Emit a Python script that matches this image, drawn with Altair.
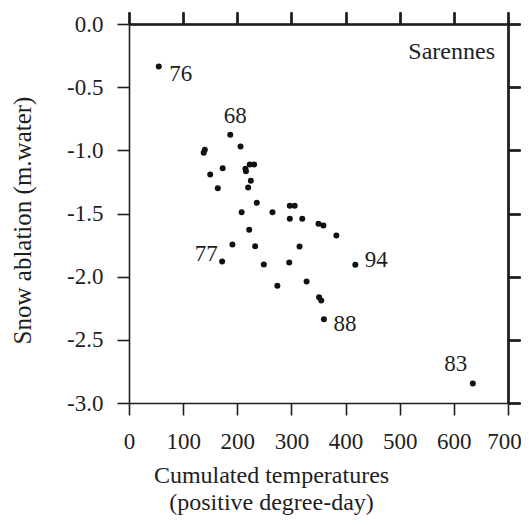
import altair as alt
import pandas as pd

# Cumulated temperatures (positive degree-day) and snow ablation (m water)
temps = [55, 187, 206, 140, 138, 173, 150, 164, 215, 223, 231, 216, 225, 220,
         236, 208, 265, 297, 306, 297, 320, 222, 191, 233, 315, 172, 249, 296,
         274, 328, 350, 359, 383, 418, 351, 355, 360, 635]
ablation = [-0.336, -0.877, -0.970, -0.996, -1.02, -1.141, -1.191, -1.30, -1.146,
            -1.112, -1.112, -1.165, -1.241, -1.294, -1.415, -1.49, -1.49, -1.438,
            -1.438, -1.542, -1.542, -1.629, -1.745, -1.759, -1.761, -1.88, -1.904,
            -1.888, -2.072, -2.038, -1.582, -1.595, -1.674, -1.906, -2.163, -2.189,
            -2.337, -2.846]
years = ["76", "68", "", "", "", "", "", "", "", "", "", "", "", "", "", "", "",
         "", "", "", "", "", "", "", "", "77", "", "", "", "", "", "", "", "94",
         "", "", "88", "83"]

x_ticks = [0, 100, 200, 300, 400, 500, 600, 700]
y_ticks = [-3.0, -2.5, -2.0, -1.5, -1.0, -0.5, 0.0]

df = pd.DataFrame({"t": temps, "a": ablation, "yr": years})

FONT = "'Liberation Serif', 'Times New Roman', Times, 'DejaVu Serif', serif"
INK = "#1e1e1e"

xs = alt.Scale(domain=[0, 700], nice=False, zero=False)
ys = alt.Scale(domain=[-3, 0], nice=False, zero=False)

common_axis = dict(domainColor=INK, domainWidth=1.6, tickColor=INK, tickWidth=1.6,
                   tickSize=12, grid=False, labelFont=FONT, labelFontSize=23,
                   labelColor=INK, titleFont=FONT, titleFontSize=25,
                   titleColor=INK, titleFontWeight="normal")

x_bottom = alt.Axis(orient="bottom", values=x_ticks, labelPadding=15,
                    labelOffset={"condition": {"test": "datum.value == 700", "value": -4},
                                 "value": 0},
                    title=["Cumulated temperatures", "(positive degree-day)"],
                    titleX=142, titleY=79, titleAlign="center",
                    titleBaseline="alphabetic", titleLineHeight=27,
                    titleFontSize=24,
                    labelFlush=False, labelOverlap=False,
                    **{k: v for k, v in common_axis.items() if k != "titleFontSize"})
y_left = alt.Axis(orient="left", values=y_ticks, labelPadding=14,
                  labelExpr="datum.value < 0 ? '-' + format(-datum.value, '.1f') : format(datum.value, '.1f')",
                  title="Snow ablation (m.water)", titleX=-107, titleY=196,
                  titleAngle=270, titleAlign="center", titleBaseline="middle",
                  labelFlush=False, labelOverlap=False, **common_axis)
x_top = alt.Axis(orient="top", values=x_ticks, labels=False, title=None,
                 **common_axis)
y_right = alt.Axis(orient="right", values=y_ticks, labels=False, title=None,
                   **common_axis)

points = alt.Chart(df).mark_circle(size=36, color="#111111", opacity=1).encode(
    x=alt.X("t:Q", scale=xs, axis=x_bottom),
    y=alt.Y("a:Q", scale=ys, axis=y_left),
)

offsets = {"76": (22, 8), "68": (5, -19), "77": (-16, -8),
           "94": (21, -5), "88": (21, 5), "83": (-17, -20)}

label_layers = []
for yr, (dx, dy) in offsets.items():
    label_layers.append(
        alt.Chart(df).transform_filter(alt.datum.yr == yr).mark_text(
            font=FONT, fontSize=23, color=INK, align="center",
            baseline="middle", dx=dx, dy=dy,
        ).encode(
            x=alt.X("t:Q", scale=xs, axis=x_top),
            y=alt.Y("a:Q", scale=ys, axis=y_right),
            text="yr:N",
        )
    )

site = alt.Chart(pd.DataFrame({"name": ["Sarennes"]})).mark_text(
    font=FONT, fontSize=24, color=INK, align="right", baseline="middle"
).encode(x=alt.value(366), y=alt.value(28), text="name:N")

chart = alt.layer(points, *label_layers, site).resolve_axis(
    x="independent", y="independent"
).properties(
    width=379, height=379,
    autosize=alt.AutoSizeParams(type="none"),
    padding={"left": 121, "top": 16, "right": 13, "bottom": 114},
).configure_view(stroke=None).configure(background="white")

chart.save("out.html", embed_options={"renderer": "svg", "actions": False})
